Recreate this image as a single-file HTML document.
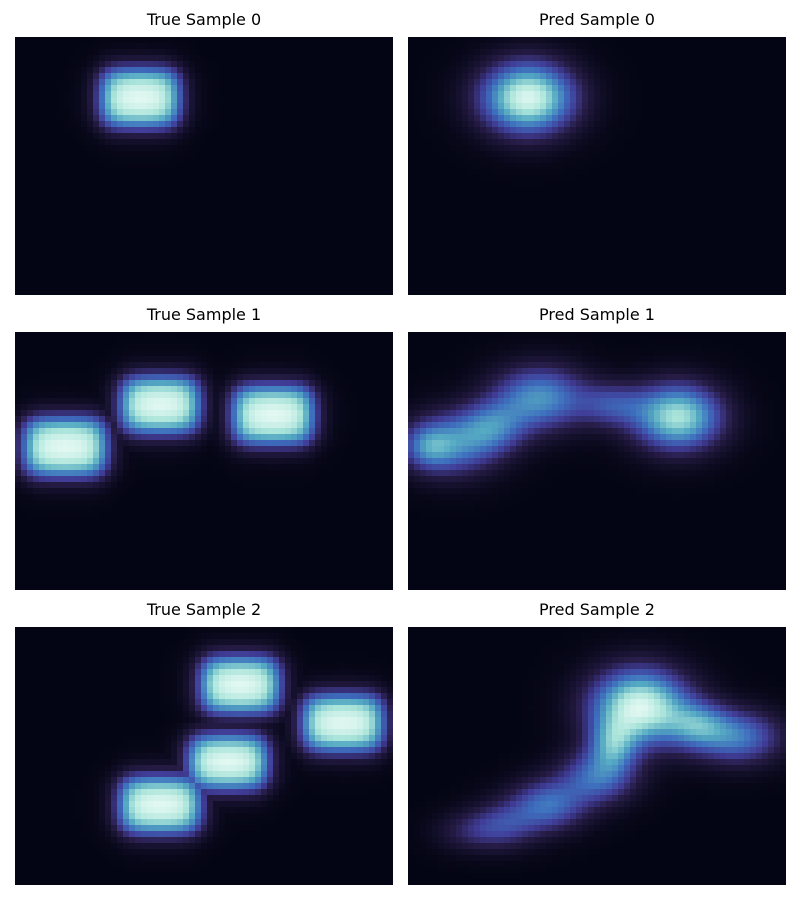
<!DOCTYPE html>
<html><head><meta charset="utf-8"><style>
body{margin:0;background:#fff;width:800px;height:900px;position:relative;overflow:hidden;font-family:"DejaVu Sans","Liberation Sans",sans-serif}
.t{position:absolute;width:378px;text-align:center;font-size:16px;color:#000}
canvas{position:absolute;width:378px;height:258px;image-rendering:pixelated}
</style></head><body>
<div id="root"></div>
<script>
// Panel titles
const titles=["True Sample 0","Pred Sample 0","True Sample 1","Pred Sample 1","True Sample 2","Pred Sample 2"];
// Blob data per panel (panel-local coords, 378x258): centers, sizes, amplitudes
const blobX=[[125],[120],[50,145,258],[45,132,270,85,205,20],[225,328,213,145,179],[232,330,190,140,95,290,205,60]];
const blobY=[[61],[61],[115,73,83],[112,66,85,95,73,115],[58,96,135,178,157],[80,110,150,178,198,98,118,205]];
const blobW=[[76],[76],[80,76,78],[75,78,72,55,55,40],[76,78,76,78,16],[80,72,62,62,58,50,38,58]];
const blobH=[[54],[58],[54,52,54],[52,52,54,42,36,36],[52,52,50,52,16],[62,44,44,42,38,38,42,32]];
const blobA=[[1],[0.95],[1,1,1],[0.5,0.58,0.82,0.38,0.32,0.3],[1,1,1,1,0.9],[0.95,0.5,0.46,0.46,0.3,0.4,0.45,0.16]];
const isTrue=[1,0,1,0,1,0];
const stops=[[0,[4,5,20]],[0.18,[38,28,70]],[0.32,[64,60,150]],[0.48,[62,110,190]],[0.65,[85,170,195]],[0.82,[170,228,218]],[1,[236,252,246]]];
function cmap(v){v=Math.max(0,Math.min(1,v));for(let i=1;i<stops.length;i++){if(v<=stops[i][0]){const a=stops[i-1],b=stops[i],t=(v-a[0])/(b[0]-a[0]);return a[1].map((c,k)=>c+(b[1][k]-c)*t);}}return stops[stops.length-1][1];}
const sig=t=>1/(1+Math.exp(-t));
const root=document.getElementById('root');
const GX=63,GY=43;
titles.forEach((tt,p)=>{
  const col=p%2,row=Math.floor(p/2);
  const left=col?408:15, top=37+row*295;
  const d=document.createElement('div');d.className='t';d.style.left=left+'px';d.style.top=(top-27)+'px';d.textContent=tt;
  
  
  root.appendChild(d);
  const c=document.createElement('canvas');c.width=GX;c.height=GY;c.style.left=left+'px';c.style.top=top+'px';
  
  
  root.appendChild(c);
  const ctx=c.getContext('2d'),img=ctx.createImageData(GX,GY);
  for(let j=0;j<GY;j++)for(let i=0;i<GX;i++){
    const x=(i+0.5)*378/GX,y=(j+0.5)*258/GY;let v=0,s=0;
    for(let b=0;b<blobX[p].length;b++){
      const dx=Math.abs(x-blobX[p][b]),dy=Math.abs(y-blobY[p][b]);
      if(isTrue[p]) v=Math.max(v,sig((blobW[p][b]/2-dx)/7)*sig((blobH[p][b]/2-dy)/7)*blobA[p][b]);
      else s+=Math.exp(-(Math.pow(dx/(blobW[p][b]*0.6),2)+Math.pow(dy/(blobH[p][b]*0.6),2)))*blobA[p][b];
    }
    if(!isTrue[p]) v=Math.min(1,s);
    const rgb=cmap(v),k=(j*GX+i)*4;img.data[k]=rgb[0];img.data[k+1]=rgb[1];img.data[k+2]=rgb[2];img.data[k+3]=255;
  }
  ctx.putImageData(img,0,0);
});
</script>
</body></html>
